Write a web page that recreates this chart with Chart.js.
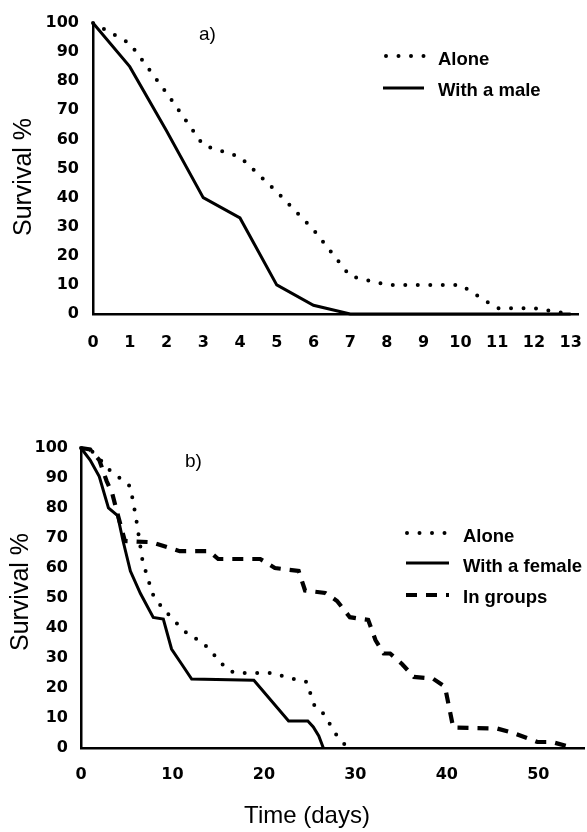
<!DOCTYPE html>
<html><head><meta charset="utf-8">
<script src="https://cdn.jsdelivr.net/npm/chart.js@4.4.1/dist/chart.umd.min.js"></script>
<style>
html,body{margin:0;padding:0;background:#fff;}
#wrap{position:relative;width:587px;height:832px;overflow:hidden;background:#fff;}
.box{position:absolute;left:0;width:587px;}
</style></head><body>
<div id="wrap">
<div class="box" style="top:0;height:380px;"><canvas id="c1" width="587" height="380"></canvas></div>
<div class="box" style="top:400px;height:432px;"><canvas id="c2" width="587" height="432"></canvas></div>
</div>
<script>
// ---- Data: panel a) ----
const daysA   = [0,1,2,3,4,5,6,7,8,9,10,11,12,13];
const aloneA  = [100,93,76,58,54,42,29,13,10,10,10,2,2,0];
const maleA   = [100,85,63,40,33,10,3,0,0,0,0,0,0,0];
const xTicksA = [0,1,2,3,4,5,6,7,8,9,10,11,12,13];

// ---- Data: panel b) ----
const aloneB_x   = [0,1,2,3,4,5,5.4,6,6.7,7.2,8,9,10,11,12,13,14,15,16,17,21,22.3,24.7,25.1,25.6,26.5,27.2,27.9,28.7,29.5];
const aloneB_y   = [100,99.5,96.5,93,90.5,88.5,87,77,63,57.5,50,46.5,43,40,37,36,33,29.5,26,25,25,23.7,22,18,13.5,11.5,8,4.5,1.5,0];
const femaleB_x  = [0,1,2,3,4,4.6,5.4,6.5,7.9,9,9.9,11,12.1,18.9,22.7,24.8,25.4,26,26.5];
const femaleB_y  = [100,96,90.5,80,77.5,69,59,51.5,43.5,43,33,28,23,22.6,9,9,7,4,0];
const groupsB_x  = [0,1,2,2.8,3.4,4,4.8,7.7,10.8,14,15,19.6,21.2,23.8,24.5,26.7,28,29.4,31.4,32.2,33.1,33.8,35.1,36.4,38.5,39.8,40.7,45.5,47.3,49.9,51.5,53.9];
const groupsB_y  = [100,99.5,96,89,85,78,69,68.6,65.6,65.6,63,63,60,59,52.5,51.7,49,43.6,42.7,36,31.5,31.5,28,23.7,23.1,20.4,6.8,6.5,5,2,2,0];
const xTicksB = [0,10,20,30,40,50];
const yTicks  = [0,10,20,30,40,50,60,70,80,90,100];

const FAM = "'Liberation Sans', Arial, Helvetica, sans-serif";
const TICKFAM = "'DejaVu Sans', 'Liberation Sans', sans-serif";
Chart.defaults.font.family = FAM;
Chart.defaults.color = '#000';

function pts(xs, ys){ return xs.map((x,i)=>({x:x, y:ys[i]})); }

const DOT  = {borderColor:'#000', borderWidth:4, borderDash:[0,12.5], borderCapStyle:'round'};
const SOLID= {borderColor:'#000', borderWidth:3, borderDash:[], borderCapStyle:'butt'};
const DASH = {borderColor:'#000', borderWidth:4.2, borderDash:[11,9], borderCapStyle:'butt'};

const annot = {
  id:'annot',
  afterDraw(chart, args, opts){
    const ctx = chart.ctx;
    ctx.save();
    ctx.fillStyle = '#000';
    (opts.texts||[]).forEach(t=>{
      ctx.save();
      ctx.font = t.font;
      ctx.textAlign = t.align||'left';
      ctx.textBaseline = 'middle';
      ctx.translate(t.x, t.y);
      if (t.rot) ctx.rotate(t.rot);
      ctx.fillText(t.text, 0, 0);
      ctx.restore();
    });
    (opts.legend||[]).forEach(l=>{
      const ds = chart.data.datasets[l.ds];
      ctx.save();
      ctx.beginPath();
      ctx.setLineDash(ds.borderDash||[]);
      ctx.lineCap = ds.borderCapStyle||'butt';
      ctx.lineWidth = ds.borderWidth;
      ctx.strokeStyle = ds.borderColor;
      ctx.moveTo(l.x0, l.y); ctx.lineTo(l.x1, l.y);
      ctx.stroke();
      ctx.restore();
      ctx.font = opts.legendFont;
      ctx.textAlign = 'left';
      ctx.textBaseline = 'middle';
      ctx.fillText(ds.label, l.tx, l.ty);
    });
    ctx.restore();
  }
};

function axisOpts(o){
  return Object.assign({
    type:'linear',
    grid:{display:true, drawOnChartArea:false, drawTicks:false},
    border:{display:true, color:'#000', width:2.5},
  }, o);
}
const tickFont = {family:TICKFAM, size:16, weight:'bold'};
function fitX(h){ return s=>{ s.height=h; s.paddingLeft=0; s.paddingRight=0; }; }
function fitY(w){ return s=>{ s.width=w; s.paddingTop=0; s.paddingBottom=0; }; }

// ---- Panel a ----
new Chart(document.getElementById('c1'), {
  type:'line',
  data:{datasets:[
    Object.assign({label:'Alone', data:pts(daysA, aloneA)}, DOT),
    Object.assign({label:'With a male', data:pts(daysA, maleA)}, SOLID)
  ]},
  options:{
    responsive:false, animation:false,
    layout:{padding:{left:0, top:23, right:9, bottom:0}},
    elements:{point:{radius:0}, line:{tension:0}},
    datasets:{line:{clip:false}},
    plugins:{legend:{display:false}, tooltip:{enabled:false},
      annot:{
        legendFont:"bold 18.5px "+FAM,
        texts:[
          {text:'a)', x:199, y:35, font:"19px "+FAM},
          {text:'Survival %', x:24, y:177, font:"25px "+FAM, align:'center', rot:-Math.PI/2}
        ],
        legend:[
          {ds:0, x0:386, x1:424, y:56, tx:438, ty:60},
          {ds:1, x0:383, x1:424, y:88, tx:438, ty:91}
        ]
      }
    },
    scales:{
      x: axisOpts({min:0, max:13.2,
        afterFit:fitX(66),
        afterBuildTicks:s=>{s.ticks = xTicksA.map(v=>({value:v}));},
        ticks:{includeBounds:false, padding:19, font:tickFont, maxRotation:0, autoSkip:false}
      }),
      y: axisOpts({min:0, max:100,
        afterFit:fitY(93),
        afterBuildTicks:s=>{s.ticks = yTicks.map(v=>({value:v}));},
        ticks:{padding:14, font:tickFont}
      })
    }
  },
  plugins:[annot]
});

// ---- Panel b ----
new Chart(document.getElementById('c2'), {
  type:'line',
  data:{datasets:[
    Object.assign({label:'Alone', data:pts(aloneB_x, aloneB_y)}, DOT),
    Object.assign({label:'With a female', data:pts(femaleB_x, femaleB_y)}, SOLID),
    Object.assign({label:'In groups', data:pts(groupsB_x, groupsB_y)}, DASH)
  ]},
  options:{
    responsive:false, animation:false,
    layout:{padding:{left:0, top:48, right:3, bottom:0}},
    elements:{point:{radius:0}, line:{tension:0}},
    datasets:{line:{clip:false}},
    plugins:{legend:{display:false}, tooltip:{enabled:false},
      annot:{
        legendFont:"bold 18.5px "+FAM,
        texts:[
          {text:'b)', x:185, y:62, font:"19px "+FAM},
          {text:'Survival %', x:21, y:192, font:"25px "+FAM, align:'center', rot:-Math.PI/2},
          {text:'Time (days)', x:307, y:416, font:"24px "+FAM, align:'center'}
        ],
        legend:[
          {ds:0, x0:407, x1:448, y:133, tx:463, ty:137},
          {ds:1, x0:406, x1:449, y:163, tx:463, ty:167},
          {ds:2, x0:406, x1:449, y:195, tx:463, ty:198}
        ]
      }
    },
    scales:{
      x: axisOpts({min:0, max:55,
        afterFit:fitX(84),
        afterBuildTicks:s=>{s.ticks = xTicksB.map(v=>({value:v}));},
        ticks:{includeBounds:false, padding:17, font:tickFont, maxRotation:0, autoSkip:false}
      }),
      y: axisOpts({min:0, max:100,
        afterFit:fitY(81),
        afterBuildTicks:s=>{s.ticks = yTicks.map(v=>({value:v}));},
        ticks:{padding:13, font:tickFont}
      })
    }
  },
  plugins:[annot]
});
</script>
</body></html>
